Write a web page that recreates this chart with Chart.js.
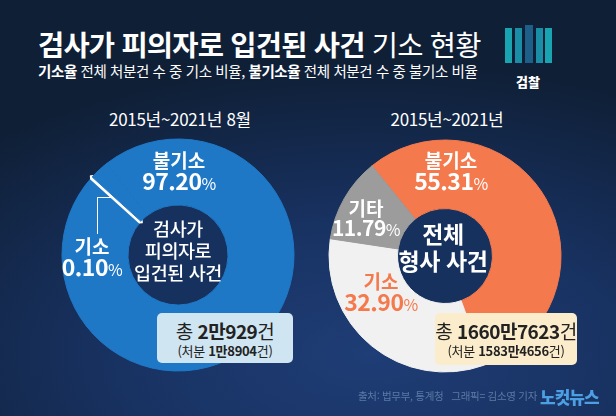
<!DOCTYPE html>
<html lang="ko">
<head>
<meta charset="utf-8">
<script src="https://cdn.jsdelivr.net/npm/chart.js@4.4.1/dist/chart.umd.min.js"></script>
<style>
  html, body { margin: 0; padding: 0; }
  body {
    width: 616px; height: 416px; overflow: hidden; position: relative;
    font-family: "Noto Sans CJK KR", "Noto Sans", sans-serif; color: #fff;
    background: radial-gradient(ellipse 90% 70% at 60% 85%, #1f3d76 0%, #183262 45%, #0f1f36 100%);
  }
  .abs { position: absolute; white-space: nowrap; }
  .c { transform: translate(-50%, -50%); text-align: center; }
  #title { left: 38px; top: 23px; font-size: 28.5px; font-weight: 700; letter-spacing: -0.8px; }
  #title span { font-weight: 400; }
  #sub { left: 38px; top: 60px; font-size: 14.5px; letter-spacing: -0.4px; }
  #sub b { font-weight: 700; }
  .period { top: 118px; font-size: 17px; letter-spacing: -0.3px; }
  canvas { position: absolute; }
  .lbl { font-weight: 700; line-height: 1; }
  .lbl .n { font-size: 19px; }
  .lbl .v { font-size: 23px; letter-spacing: -0.5px; }
  .lbl small { font-size: 16px; font-weight: 400; }
  .mid { font-size: 18.5px; line-height: 22px; font-weight: 500; letter-spacing: -0.4px; }
  .box { border-radius: 5px; color: #222; text-align: center; }
  .box .l1 { font-size: 19px; line-height: 22px; margin-top: 7px; letter-spacing: -0.5px; }
  .box .l1 b { font-weight: 700; }
  .box .l2 { font-size: 13px; line-height: 17px; letter-spacing: -0.3px; }
  .box .l2 b { font-weight: 700; }
</style>
</head>
<body>

<div id="title" class="abs">검사가 피의자로 입건된 사건 <span>기소 현황</span></div>
<div id="sub" class="abs"><b>기소율</b> 전체 처분건 수 중 기소 비율, <b>불기소율</b> 전체 처분건 수 중 불기소 비율</div>

<!-- prosecution logo -->
<div class="abs" style="left:505px;top:28px;width:7px;height:35px;background:#18a4b1"></div>
<div class="abs" style="left:515px;top:28px;width:7px;height:35px;background:#1a8ea6"></div>
<div class="abs" style="left:525px;top:25px;width:8px;height:38px;background:#1d5f88"></div>
<div class="abs" style="left:536px;top:28px;width:7px;height:35px;background:#1a8ea6"></div>
<div class="abs" style="left:545px;top:28px;width:7px;height:35px;background:#18a4b1"></div>
<div class="abs c" style="left:528px;top:81px;font-size:13px;font-weight:900">검찰</div>

<div class="abs c period" style="left:180px">2015년~2021년 8월</div>
<div class="abs c period" style="left:447px">2015년~2021년</div>

<canvas id="left" width="260" height="260" style="left:48px;top:125px;width:260px;height:260px"></canvas>
<canvas id="right" width="260" height="260" style="left:315px;top:126px;width:260px;height:260px"></canvas>

<div id="overlay"></div>

<div class="abs" style="left:358px;top:388px;font-size:10.5px;color:#5b79a6;letter-spacing:-0.3px">출처: 법무부, 통계청 &nbsp; 그래픽= 김소영 기자</div>
<div class="abs" style="left:540px;top:384px;font-size:17px;font-weight:900;color:#4d9fe3;letter-spacing:-1px">노컷뉴스</div>

<script>
// left: cases where a prosecutor was the suspect (2015 ~ 2021.8)
var leftLabels = ['불기소', '기소', '기타'];
var leftValues = [97.20, 0.10, 2.70];
var leftColors = ['#1f78c6', '#ffffff', '#1f78c6'];

// right: all criminal cases (2015 ~ 2021)
var rightLabels = ['불기소', '기소', '기타'];
var rightValues = [55.31, 32.90, 11.79];
var rightColors = ['#f47a4e', '#f1f1f1', '#9c9c9c'];

// totals shown in the boxes
var leftTotal = ['2만929', '1만8904'];
var rightTotal = ['1660만7623', '1583만4656'];

function pct(v) {
  return v.toFixed(2) + '<small>%</small>';
}

// dark navy disc in the doughnut hole
var holePlugin = {
  id: 'hole',
  beforeDatasetsDraw: function(chart) {
    var arc = chart.getDatasetMeta(0).data[0];
    var ctx = chart.ctx;
    ctx.save();
    ctx.beginPath();
    ctx.arc(arc.x, arc.y, arc.innerRadius, 0, Math.PI * 2);
    ctx.fillStyle = '#16315e';
    ctx.fill();
    ctx.restore();
  }
};

function donut(id, labels, values, colors, rotation, borderColors, borders, hole) {
  return new Chart(document.getElementById(id), {
    type: 'doughnut',
    data: {
      labels: labels,
      datasets: [{
        data: values,
        backgroundColor: colors,
        borderColor: borderColors,
        borderWidth: borders
      }]
    },
    options: {
      responsive: false,
      animation: false,
      radius: 116,
      cutout: hole,
      rotation: rotation,
      layout: { padding: 0 },
      plugins: { legend: { display: false }, tooltip: { enabled: false } }
    },
    plugins: [holePlugin]
  });
}

donut('left', leftLabels, leftValues, leftColors, -38, leftColors, [1, 5, 1], 55);
donut('right', rightLabels, rightValues, rightColors, -39, rightColors, [1, 1, 1], 53);

var html = '';
function label(x, y, name, value, color, size) {
  html += '<div class="abs c lbl" style="left:' + x + 'px;top:' + y + 'px;color:' + color + '">' +
    '<div class="n">' + name + '</div><div class="v"' + (size ? ' style="font-size:' + size + 'px"' : '') + '>' +
    pct(value) + '</div></div>';
}
label(179, 171, leftLabels[0], leftValues[0], '#fff');
label(92, 257, leftLabels[1], leftValues[1], '#fff');
label(451, 171, rightLabels[0], rightValues[0], '#fff');
label(366, 218, rightLabels[2], rightValues[2], '#fff', 21);
label(381, 292, rightLabels[1], rightValues[1], '#f47a4e');

// leader line for the thin 기소 slice
html += '<div class="abs" style="left:97px;top:197px;width:15px;height:36px;border-left:1.5px solid #fff;border-top:1.5px solid #fff"></div>';

html += '<div class="abs c mid" style="left:178px;top:250px">검사가<br>피의자로<br>입건된 사건</div>';
html += '<div class="abs c mid" style="left:443px;top:247px;font-size:23px;line-height:27px;font-weight:700">전체<br>형사 사건</div>';

html += '<div class="abs box" style="left:157px;top:313px;width:136px;height:50px;background:#cfe5f1">' +
  '<div class="l1">총 <b>' + leftTotal[0] + '</b>건</div><div class="l2">(처분 <b>' + leftTotal[1] + '</b>건)</div></div>';
html += '<div class="abs box" style="left:435px;top:313px;width:142px;height:52px;background:#fbeccb">' +
  '<div class="l1">총 <b>' + rightTotal[0] + '</b>건</div><div class="l2">(처분 <b>' + rightTotal[1] + '</b>건)</div></div>';

document.getElementById('overlay').innerHTML = html;
</script>
</body>
</html>
